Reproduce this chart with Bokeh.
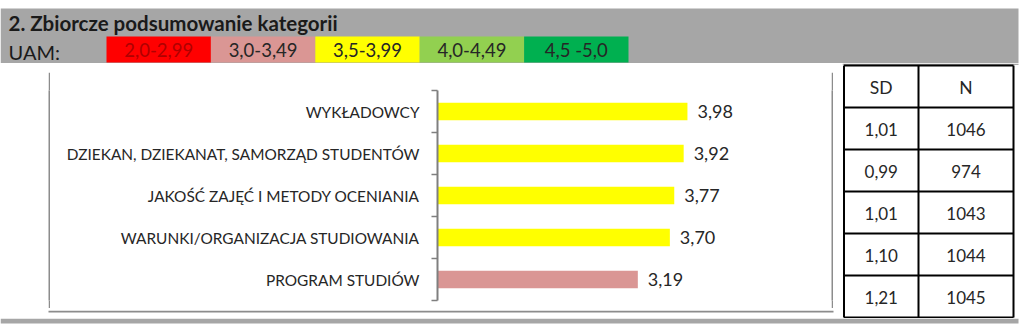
from bokeh.plotting import figure
from bokeh.layouts import row, column
from bokeh.models import Range1d, FixedTicker, ColumnDataSource, Spacer
from bokeh.embed import file_html
from bokeh.resources import INLINE
from bokeh.core.properties import value

# ---------------- data ----------------
title = "2. Zbiorcze podsumowanie kategorii"
scale_label = "UAM:"
legend_labels = ["2,0-2,99", "3,0-3,49", "3,5-3,99", "4,0-4,49", "4,5 -5,0"]
legend_colors = ["#FF0000", "#DA9694", "#FFFF00", "#92D050", "#00B050"]
legend_text_colors = ["#B00000", "#262626", "#262626", "#262626", "#262626"]
legend_bounds = [2.0, 3.0, 3.5, 4.0, 4.5]

categories = [
    "WYKŁADOWCY",
    "DZIEKAN, DZIEKANAT, SAMORZĄD STUDENTÓW",
    "JAKOŚĆ ZAJĘĆ I METODY OCENIANIA",
    "WARUNKI/ORGANIZACJA STUDIOWANIA",
    "PROGRAM STUDIÓW",
]
means = [3.98, 3.92, 3.77, 3.70, 3.19]
sd_values = [1.01, 0.99, 1.01, 1.10, 1.21]
n_values = [1046, 974, 1043, 1044, 1045]
table_headers = ["SD", "N"]

FONT = "Lato"
TXT = "#262626"
GRAY = "#A6A6A6"
BOX_GRAY = "#8C8C8C"


def pl(v):
    return f"{v:.2f}".replace(".", ",")


def band_color(v):
    idx = 0
    for i, b in enumerate(legend_bounds):
        if v >= b:
            idx = i
    return legend_colors[idx]


n = len(categories)


def blank_fig(w, h, xr, yr, fill="white"):
    f = figure(width=w, height=h, output_backend="svg", toolbar_location=None,
               x_range=Range1d(*xr), y_range=Range1d(*yr),
               x_axis_location=None, y_axis_location=None,
               min_border=0, outline_line_color=None,
               background_fill_color=fill, border_fill_color=fill)
    f.grid.visible = False
    return f


# ---------------- header (y 0-63) ----------------
hdr = blank_fig(1023, 63, (0, 1023), (63, 0))
hdr.quad(left=[0], right=[1018], top=[8], bottom=[63], color=GRAY, line_color=None)
LEG_X0, LEG_W = 106, 104.4
leg_src = ColumnDataSource(dict(
    l=[LEG_X0 + i * LEG_W for i in range(len(legend_labels))],
    r=[LEG_X0 + (i + 1) * LEG_W for i in range(len(legend_labels))],
    c=[LEG_X0 + (i + 0.5) * LEG_W for i in range(len(legend_labels))],
    col=legend_colors, tc=legend_text_colors, lab=legend_labels,
))
hdr.quad(left="l", right="r", top=36, bottom=62, color="col", line_color=None, source=leg_src)
hdr.text(x="c", y=49.5, text="lab", source=leg_src, text_align="center", text_baseline="middle",
         text_font=value(FONT), text_font_size="18.5px", text_color="tc")
hdr.text(x=[8], y=[22], text=[title], text_baseline="middle", text_font=value(FONT),
         text_font_style="bold", text_font_size="20.5px", text_color="#1a1a1a")
hdr.text(x=[8], y=[51], text=[scale_label], text_baseline="middle", text_font=value(FONT),
         text_font_size="20px", text_color="#1a1a1a")

# ---------------- chart (box 48-833 x 70-310) ----------------
F_LEFT, BOX_IN_L, BOX_IN_R = 437, 50, 831
PX_PER_UNIT = 62.8
src = ColumnDataSource(dict(
    y=list(range(n)), mean=means,
    color=[band_color(m) for m in means],
    label=[pl(m) for m in means],
))
p = figure(width=BOX_IN_R - BOX_IN_L, height=236, output_backend="svg", toolbar_location=None,
           x_range=Range1d(0, (BOX_IN_R - F_LEFT) / PX_PER_UNIT),
           y_range=Range1d(n - 0.5, -0.5),
           x_axis_location=None,
           min_border_left=F_LEFT - BOX_IN_L, min_border_right=0,
           min_border_top=18, min_border_bottom=8,
           outline_line_color=None, background_fill_color="white", border_fill_color="white")
p.grid.visible = False
p.hbar(y="y", left=0, right="mean", height=0.42, color="color", line_color=None, source=src)
p.text(x="mean", y="y", text="label", source=src, x_offset=10,
       text_baseline="middle", text_align="left",
       text_font=value(FONT), text_font_size="18px", text_color=TXT)
ax = p.yaxis[0]
ax.ticker = FixedTicker(ticks=list(range(n)), minor_ticks=[i - 0.5 for i in range(n + 1)])
ax.major_label_overrides = {i: c for i, c in enumerate(categories)}
ax.axis_line_color = "#7F7F7F"
ax.axis_line_width = 2
ax.major_tick_line_color = None
ax.major_tick_in = 0
ax.major_tick_out = 0
ax.minor_tick_in = 0
ax.minor_tick_out = 6
ax.minor_tick_line_color = "#7F7F7F"
ax.minor_tick_line_width = 1.5
ax.major_label_standoff = 12
ax.major_label_text_font = FONT
ax.major_label_text_font_size = "15.4px"
ax.major_label_text_color = TXT


def vbar_strip(h):
    return blank_fig(2, h, (0, 1), (0, 1), fill=BOX_GRAY)


BOX_L, BOX_R, BOX_T, BOX_B = 48, 833, 70, 310
top_strip = blank_fig(842, 9, (0, 842), (72, 63))
top_strip.quad(left=[BOX_L], right=[BOX_R], top=[BOX_T], bottom=[BOX_T + 2], color=BOX_GRAY, line_color=None)
bot_strip = blank_fig(842, 10, (0, 842), (318, 308))
bot_strip.quad(left=[BOX_L], right=[BOX_R], top=[BOX_B - 2], bottom=[BOX_B], color=BOX_GRAY, line_color=None)

left_part = column(
    top_strip,
    row(Spacer(width=BOX_L, height=236), vbar_strip(236), p, vbar_strip(236),
        Spacer(width=842 - BOX_R, height=236), spacing=0),
    bot_strip,
    spacing=0,
)

# ---------------- table (x 842-1023, y 63-318) ----------------
T_L, T_M, T_R, T_T, ROW_H = 843.5, 918, 1013, 65, 42
rows_n = n + 1
T_B = T_T + rows_n * ROW_H
tbl = blank_fig(181, 255, (842, 1023), (318, 63))
tbl.quad(left=[842], right=[1018], top=[63], bottom=[64.5], color=GRAY, line_color=None)
hx0 = [T_L] * (rows_n + 1)
hx1 = [T_R] * (rows_n + 1)
hy = [T_T + k * ROW_H for k in range(rows_n + 1)]
tbl.segment(x0=hx0, y0=hy, x1=hx1, y1=hy, line_color="black", line_width=2)
tbl.segment(x0=[T_L, T_M, T_R], y0=[T_T] * 3, x1=[T_L, T_M, T_R], y1=[T_B] * 3,
            line_color="black", line_width=2)
cx1, cx2 = (T_L + T_M) / 2, (T_M + T_R) / 2
tbl.text(x=[cx1, cx2], y=[T_T + ROW_H / 2 + 1] * 2, text=table_headers, text_align="center",
         text_baseline="middle", text_font=value(FONT), text_font_size="17.5px", text_color=TXT)
row_y = [T_T + (k + 1.5) * ROW_H + 1 for k in range(n)]
tbl.text(x=[cx1] * n, y=row_y, text=[pl(v) for v in sd_values], text_align="center",
         text_baseline="middle", text_font=value(FONT), text_font_size="17px", text_color=TXT)
tbl.text(x=[cx2] * n, y=row_y, text=[str(v) for v in n_values], text_align="center",
         text_baseline="middle", text_font=value(FONT), text_font_size="17px", text_color=TXT)

middle = row(left_part, tbl, spacing=0)

# ---------------- bottom band (y 318-330) ----------------
bot = blank_fig(1023, 12, (0, 1023), (330, 318))
bot.quad(left=[0], right=[1018], top=[318], bottom=[323], color=GRAY, line_color=None)

layout = column(hdr, middle, bot, spacing=0)
open("out.html", "w").write(file_html(layout, INLINE))
